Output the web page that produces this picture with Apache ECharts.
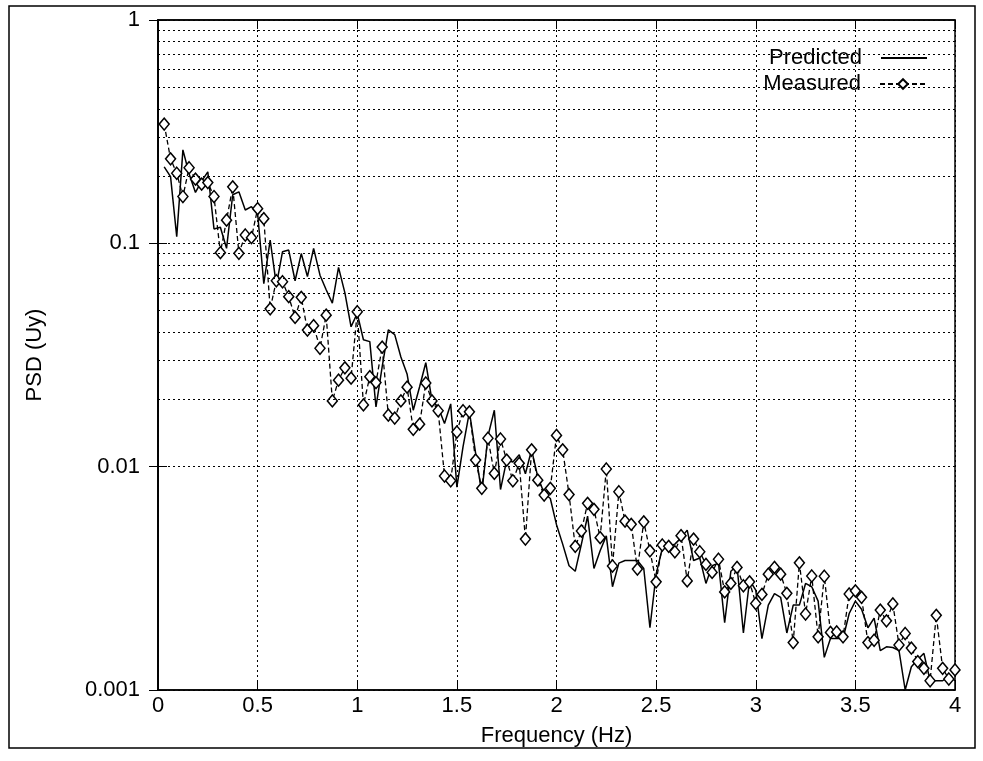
<!DOCTYPE html>
<html>
<head>
<meta charset="utf-8">
<script src="https://cdn.jsdelivr.net/npm/echarts@6/dist/echarts.min.js"></script>
<style>
html,body{margin:0;padding:0;background:#fff;}
#chart{width:983px;height:761px;}
</style>
</head>
<body>
<div id="chart"></div>
<script>
// Frequencies (Hz)
const freq = [
0.031,0.063,0.094,0.125,0.156,0.188,0.219,0.25,0.281,0.313,0.344,0.375,0.406,0.438,0.469,0.5,
0.531,0.563,0.594,0.625,0.656,0.688,0.719,0.75,0.781,0.813,0.844,0.875,0.906,0.938,0.969,1.0,
1.031,1.063,1.094,1.125,1.156,1.188,1.219,1.25,1.281,1.313,1.344,1.375,1.406,1.438,1.469,1.5,
1.531,1.563,1.594,1.625,1.656,1.688,1.719,1.75,1.781,1.813,1.844,1.875,1.906,1.938,1.969,2.0,
2.031,2.063,2.094,2.125,2.156,2.188,2.219,2.25,2.281,2.313,2.344,2.375,2.406,2.438,2.469,2.5,
2.531,2.563,2.594,2.625,2.656,2.688,2.719,2.75,2.781,2.813,2.844,2.875,2.906,2.938,2.969,3.0,
3.031,3.063,3.094,3.125,3.156,3.188,3.219,3.25,3.281,3.313,3.344,3.375,3.406,3.438,3.469,3.5,
3.531,3.563,3.594,3.625,3.656,3.688,3.719,3.75,3.781,3.813,3.844,3.875,3.906,3.938,3.969,4.0
];
// Predicted PSD
const predicted = [
0.22,0.199,0.107,0.262,0.205,0.169,0.19,0.209,0.116,0.118,0.095,0.165,0.17,0.141,0.146,0.136,
0.066,0.1035,0.065,0.0917,0.0933,0.068,0.09,0.071,0.095,0.072,0.062,0.054,0.078,0.06,0.0423,0.0486,
0.037,0.0363,0.0185,0.028,0.041,0.039,0.031,0.026,0.0179,0.0228,0.0292,0.0198,0.0185,0.0156,0.0191,0.0081,
0.0123,0.0176,0.0115,0.0076,0.0137,0.0179,0.0079,0.0107,0.0105,0.0113,0.0093,0.0119,0.009,0.0076,0.0072,0.0055,
0.0045,0.0036,0.0034,0.0045,0.006,0.0035,0.0042,0.0049,0.0029,0.0037,0.0038,0.0038,0.0038,0.0035,0.0019,0.0033,
0.0043,0.0044,0.0045,0.0048,0.0052,0.0038,0.0039,0.003,0.0036,0.0037,0.002,0.0034,0.0036,0.0018,0.0031,0.0028,
0.0017,0.0024,0.0027,0.0026,0.0018,0.0024,0.0024,0.003,0.0029,0.0025,0.0014,0.0017,0.0017,0.0017,0.0022,0.0025,
0.0023,0.0019,0.0021,0.0015,0.00156,0.00155,0.0015,0.001,0.00127,0.00137,0.00146,0.0011,0.0011,0.0011,0.00115,0.0011
];
// Measured PSD
const measured = [
0.342,0.239,0.206,0.162,0.218,0.194,0.184,0.187,0.162,0.0908,0.127,0.179,0.0902,0.109,0.106,0.143,
0.129,0.0509,0.068,0.0673,0.0577,0.0466,0.0573,0.0409,0.0428,0.0339,0.0477,0.0197,0.0244,0.0277,0.0249,0.0494,
0.0189,0.0253,0.0238,0.0343,0.017,0.0165,0.0197,0.0227,0.0147,0.0155,0.0237,0.0197,0.0178,0.00908,0.00865,0.0143,
0.0178,0.0176,0.0107,0.008,0.0134,0.00933,0.0133,0.0107,0.00865,0.01035,0.00474,0.0119,0.0087,0.00746,0.008,0.0138,
0.0119,0.0075,0.0044,0.00515,0.00685,0.00644,0.00481,0.00976,0.00359,0.00772,0.0057,0.00552,0.00348,0.00566,0.0042,0.00305,
0.00446,0.0044,0.00416,0.00491,0.00308,0.00474,0.00416,0.00365,0.00336,0.00385,0.00275,0.003,0.00354,0.00293,0.00305,0.00244,
0.00268,0.0033,0.00354,0.0033,0.00271,0.00163,0.00371,0.00219,0.00324,0.00173,0.00323,0.00181,0.00182,0.00173,0.00269,0.00278,
0.0026,0.00163,0.00167,0.00228,0.00204,0.00243,0.00159,0.00179,0.00154,0.00134,0.00125,0.0011,0.00216,0.00125,0.00112,0.00123
];
const yTickLabels = ['0.001','0.01','0.1','1'];
const xTickLabels = ['0','0.5','1','1.5','2','2.5','3','3.5','4'];
const minorGrid = [0.002,0.003,0.004,0.005,0.006,0.007,0.008,0.009,
                   0.02,0.03,0.04,0.05,0.06,0.07,0.08,0.09,
                   0.2,0.3,0.4,0.5,0.6,0.7,0.8,0.9];

const FONT = 'Liberation Sans';
const FS = 22;
const dotted = {type:[2,3], color:'#000', width:1};

const chart = echarts.init(document.getElementById('chart'), null, {renderer:'canvas'});
chart.setOption({
  animation:false,
  backgroundColor:'#fff',
  textStyle:{fontFamily:FONT, color:'#000'},
  graphic:[{type:'rect', shape:{x:9,y:6,width:966,height:742}, style:{fill:'none', stroke:'#000', lineWidth:1.5}, silent:true, z:-1}],
  grid:{left:158, top:20, right:28, bottom:71, show:true, borderColor:'#000', borderWidth:1.5, backgroundColor:'transparent'},
  legend:[
    {data:[{name:'Predicted', icon:'rect'}], right:51, top:42, orient:'vertical', align:'right',
     itemWidth:46, itemHeight:2, itemGap:4,
     textStyle:{fontFamily:FONT, fontSize:FS, color:'#000', padding:[0,14,0,0]}},
    {data:['Measured'], right:51, top:68, orient:'vertical', align:'right', itemWidth:46, itemHeight:12, itemGap:4,
     textStyle:{fontFamily:FONT, fontSize:FS, color:'#000', padding:[0,14,0,0]}}
  ],
  xAxis:[{
    type:'value', min:0, max:4, interval:0.5,
    name:'Frequency (Hz)', nameLocation:'middle', nameGap:35,
    nameTextStyle:{fontFamily:FONT, fontSize:FS, color:'#000'},
    axisLine:{show:true, lineStyle:{color:'#000', width:1.5}},
    axisTick:{show:true, inside:true, length:9, lineStyle:{color:'#000'}},
    axisLabel:{fontFamily:FONT, fontSize:FS, color:'#000', margin:5,
      formatter:(v)=>xTickLabels[Math.round(v/0.5)]},
    splitLine:{show:true, lineStyle:dotted}
  },{
    type:'value', min:0, max:4, interval:0.5, position:'top',
    axisLine:{show:true, lineStyle:{color:'#000', width:1.5}},
    axisTick:{show:true, inside:true, length:9, lineStyle:{color:'#000'}},
    axisLabel:{show:false}, splitLine:{show:false}
  }],
  yAxis:[{
    type:'log', logBase:10, min:0.001, max:1,
    name:'PSD (Uy)', nameLocation:'middle', nameGap:112, nameRotate:90,
    nameTextStyle:{fontFamily:FONT, fontSize:FS, color:'#000'},
    axisLine:{show:true, lineStyle:{color:'#000', width:1.5}},
    axisTick:{show:true, inside:true, length:9, lineStyle:{color:'#000'}},
    axisLabel:{fontFamily:FONT, fontSize:FS, color:'#000', margin:18,
      formatter:(v)=>yTickLabels[Math.round(Math.log10(v))+3]},
    splitLine:{show:true, lineStyle:dotted}
  },{
    type:'log', logBase:10, min:0.001, max:1, position:'right',
    axisLine:{show:true, lineStyle:{color:'#000', width:1.5}},
    axisTick:{show:true, inside:true, length:9, lineStyle:{color:'#000'}},
    axisLabel:{show:false}, splitLine:{show:false}
  }],
  series:[
    {
      name:'Predicted', type:'line', xAxisIndex:0, yAxisIndex:0,
      data:freq.map((f,i)=>[f, predicted[i]]),
      showSymbol:false, symbol:'none',
      lineStyle:{color:'#000', width:1.5, type:'solid'},
      itemStyle:{color:'#000'},
      z:3,
      markLine:{silent:true, symbol:'none', label:{show:false},
        lineStyle:dotted, animation:false,
        data:minorGrid.map(v=>({yAxis:v}))}
    },
    {
      name:'Measured', type:'line', xAxisIndex:0, yAxisIndex:0,
      data:freq.map((f,i)=>[f, measured[i]]),
      symbol:'diamond', symbolSize:[10,12], showSymbol:true,
      lineStyle:{color:'#000', width:1.3, type:[5,3]},
      itemStyle:{color:'#fff', borderColor:'#000', borderWidth:1.5},
      z:4
    }
  ]
});
</script>
</body>
</html>
